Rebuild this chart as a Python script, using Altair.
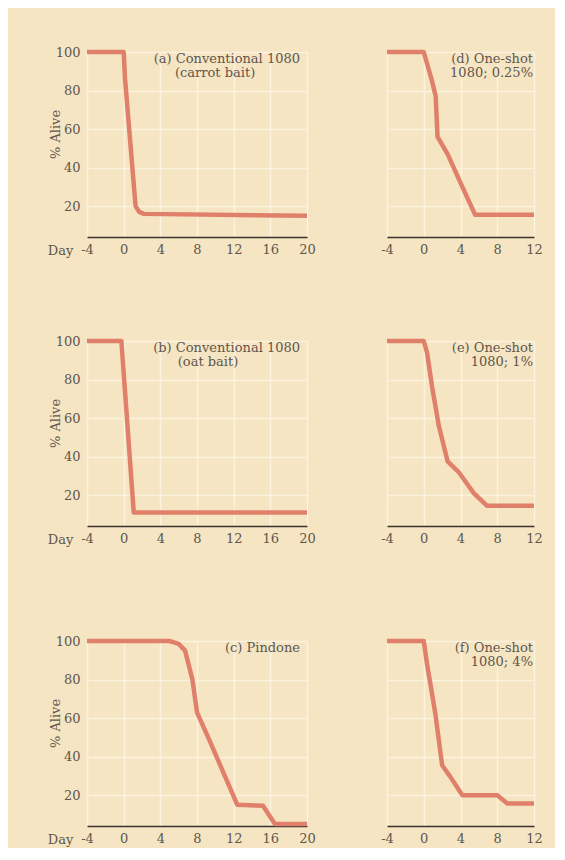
import altair as alt
import pandas as pd

# ---- data ----
a_day = [-4, 0, 0.15, 1.3, 1.7, 2.2, 20]
a_alive = [100, 100, 86, 20, 17, 16, 15]

b_day = [-4, -0.25, 1.1, 20]
b_alive = [100, 100, 11, 11]

c_day = [-4, 5, 6, 6.7, 7.5, 8, 9.4, 12.4, 15.2, 16.5, 20]
c_alive = [100, 100, 98.5, 95, 80, 63, 48, 15, 14.5, 5, 5]

d_day = [-4, 0, 0.9, 1.3, 1.5, 2.6, 4.2, 5.6, 12]
d_alive = [100, 100, 85, 77, 56, 47, 30, 15.5, 15.5]

e_day = [-4, 0, 0.36, 0.9, 1.64, 2.6, 3.8, 5.45, 6.9, 12]
e_alive = [100, 100, 94, 76.5, 56, 37.5, 32, 21, 14.5, 14.5]

f_day = [-4, 0, 0.36, 1.27, 2.0, 2.9, 4.2, 8, 9.1, 12]
f_alive = [100, 100, 88, 62, 35.5, 29.5, 20, 20, 15.7, 15.7]

left_ticks = [-4, 0, 4, 8, 12, 16, 20]
right_ticks = [-4, 0, 4, 8, 12]
y_ticks = [20, 40, 60, 80, 100]

line1 = ["(a) Conventional 1080", "(b) Conventional 1080", "(c) Pindone",
         "(d) One-shot", "(e) One-shot", "(f) One-shot"]
line2 = ["(carrot bait)", "(oat bait)", "", "1080; 0.25%", "1080; 1%", "1080; 4%"]
line2_left_day = [5.6, 5.9, None, None, None, None]

# ---- styling ----
BG = "#f6e5c3"
LINE = "#e0806a"
GRID = "#fcf3df"
TEXT = "#5e564d"
AXIS = "#3a342e"
FONT = "DejaVu Serif"
FS = 13
H = 185
WL = 220
WR = 147


def panel(i, days, alive, xmax, ticks, left):
    df = pd.DataFrame({"day": days, "alive": alive})
    xaxis = alt.Axis(
        values=ticks, tickCount=20, grid=True, gridColor=GRID, gridWidth=1.5,
        domainColor=AXIS, domainWidth=1.6, ticks=False,
        labelFont=FONT, labelFontSize=FS, labelColor=TEXT, labelPadding=6,
        labelFlush=False, labelOverlap=False, labelExpr="'' + datum.value",
        title="Day" if left else "",
        titleFont=FONT, titleFontSize=FS, titleColor=TEXT, titleFontWeight="normal",
        titleX=-27, titleY=13, titleAlign="center", titleBaseline="middle",
    )
    yaxis = alt.Axis(
        values=y_ticks, tickCount=20, grid=True, gridColor=GRID, gridWidth=1.5,
        domain=False, ticks=False, labels=left, labelOverlap=False,
        labelFont=FONT, labelFontSize=FS, labelColor=TEXT, labelPadding=7,
        title="% Alive" if left else "",
        titleFont=FONT, titleFontSize=FS, titleColor=TEXT, titleFontWeight="normal",
        titleX=-32, titleY=82, titleAlign="center", titleBaseline="middle",
    )
    x = alt.X("day:Q", scale=alt.Scale(domain=[-4, xmax], nice=False, zero=False), axis=xaxis)
    y = alt.Y("alive:Q", scale=alt.Scale(domain=[4, 100], nice=False, zero=False), axis=yaxis)
    ln = alt.Chart(df).mark_line(
        color=LINE, strokeWidth=4.5, strokeJoin="round", strokeCap="butt"
    ).encode(x=x, y=y)

    layers = [ln]
    t1 = alt.Chart(pd.DataFrame({"t": [line1[i]]})).mark_text(
        align="right", baseline="middle", dx=-7 if left else -1, dy=7,
        font=FONT, fontSize=FS, color=TEXT
    ).encode(x=alt.datum(xmax), y=alt.datum(100), text="t:N")
    layers.append(t1)
    if line2[i]:
        if left:
            t2 = alt.Chart(pd.DataFrame({"t": [line2[i]]})).mark_text(
                align="left", baseline="middle", dy=21,
                font=FONT, fontSize=FS, color=TEXT
            ).encode(x=alt.datum(line2_left_day[i]), y=alt.datum(100), text="t:N")
        else:
            t2 = alt.Chart(pd.DataFrame({"t": [line2[i]]})).mark_text(
                align="right", baseline="middle", dx=-1, dy=21,
                font=FONT, fontSize=FS, color=TEXT
            ).encode(x=alt.datum(xmax), y=alt.datum(100), text="t:N")
        layers.append(t2)
    return alt.layer(*layers).properties(width=WL if left else WR, height=H)


pa = panel(0, a_day, a_alive, 20, left_ticks, True)
pb = panel(1, b_day, b_alive, 20, left_ticks, True)
pc = panel(2, c_day, c_alive, 20, left_ticks, True)
pd_ = panel(3, d_day, d_alive, 12, right_ticks, False)
pe = panel(4, e_day, e_alive, 12, right_ticks, False)
pf = panel(5, f_day, f_alive, 12, right_ticks, False)

row1 = alt.hconcat(pa, pd_, spacing=80, bounds="flush")
row2 = alt.hconcat(pb, pe, spacing=80, bounds="flush")
row3 = alt.hconcat(pc, pf, spacing=80, bounds="flush")

top = alt.vconcat(row1, row2, spacing=78)
chart = alt.vconcat(top, row3, spacing=89).properties(
    background=BG,
    padding={"left": 39, "top": 38, "right": 12, "bottom": 2},
).configure_view(strokeWidth=0)

chart.save("out.html", embed_options={"renderer": "svg", "actions": False})
